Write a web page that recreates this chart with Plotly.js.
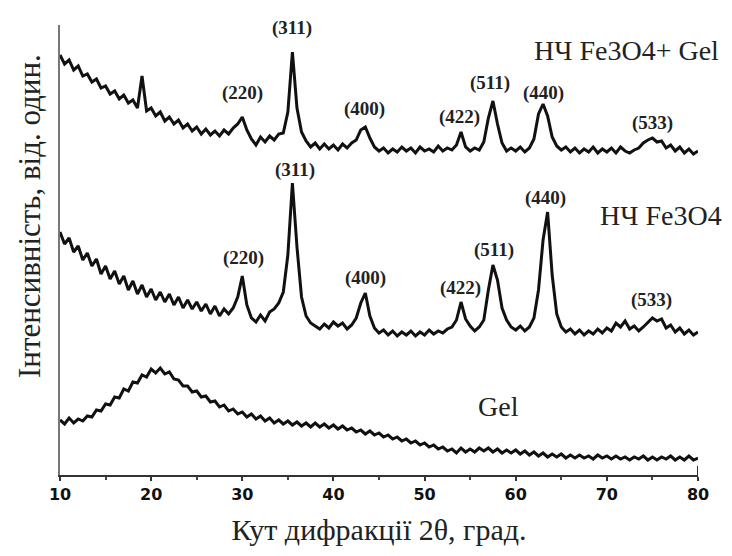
<!DOCTYPE html>
<html><head><meta charset="utf-8">
<script src="https://cdn.plot.ly/plotly-3.0.1.min.js"></script>
<style>html,body{margin:0;padding:0;background:#fff}#chart{width:732px;height:556px}</style>
</head><body><div id="chart"></div>
<script>
const twoTheta = [
10.0,10.5,11.0,11.5,12.0,12.5,13.0,13.5,14.0,14.5,
15.0,15.5,16.0,16.5,17.0,17.5,18.0,18.5,19.0,19.5,
20.0,20.5,21.0,21.5,22.0,22.5,23.0,23.5,24.0,24.5,
25.0,25.5,26.0,26.5,27.0,27.5,28.0,28.5,29.0,29.5,
30.0,30.5,31.0,31.5,32.0,32.5,33.0,33.5,34.0,34.5,
35.0,35.5,36.0,36.5,37.0,37.5,38.0,38.5,39.0,39.5,
40.0,40.5,41.0,41.5,42.0,42.5,43.0,43.5,44.0,44.5,
45.0,45.5,46.0,46.5,47.0,47.5,48.0,48.5,49.0,49.5,
50.0,50.5,51.0,51.5,52.0,52.5,53.0,53.5,54.0,54.5,
55.0,55.5,56.0,56.5,57.0,57.5,58.0,58.5,59.0,59.5,
60.0,60.5,61.0,61.5,62.0,62.5,63.0,63.5,64.0,64.5,
65.0,65.5,66.0,66.5,67.0,67.5,68.0,68.5,69.0,69.5,
70.0,70.5,71.0,71.5,72.0,72.5,73.0,73.5,74.0,74.5,
75.0,75.5,76.0,76.5,77.0,77.5,78.0,78.5,79.0,79.5,
80.0];

const intensityNPGel = [
420,411,415,405,409,399,401,393,396,387,
389,381,384,376,380,372,375,367,399,364,
367,359,363,354,358,351,355,347,351,344,
348,341,346,340,344,339,345,341,347,351,
358,345,336,330,338,333,339,335,341,342,
363,423,367,343,334,328,332,326,331,326,
330,325,331,327,332,335,345,348,337,328,
324,327,322,326,323,328,324,327,322,328,
324,326,323,329,324,327,325,330,343,328,
324,327,325,333,357,374,351,332,324,327,
324,328,323,327,336,361,371,359,338,329,
325,328,323,327,322,326,323,328,322,326,
323,327,322,328,324,322,325,327,332,335,
337,333,334,327,330,324,328,322,326,321,
324];

const intensityNP = [
243,231,237,223,229,215,222,209,216,201,
209,196,204,191,199,185,194,181,190,178,
186,175,183,173,181,170,178,167,175,166,
173,164,171,161,169,159,166,161,167,178,
199,170,157,153,160,154,163,166,172,183,
220,292,228,178,159,152,149,146,151,147,
153,149,152,146,150,157,172,182,159,147,
142,145,140,144,139,143,140,144,139,143,
140,145,141,144,142,146,148,155,173,156,
149,144,148,155,185,210,195,167,155,148,
145,149,144,148,157,185,235,263,200,161,
148,143,146,141,145,140,144,141,146,142,
147,144,152,148,154,146,149,144,148,153,
157,154,156,147,150,143,147,141,145,140,
143];

const intensityGel = [
55,51,57,52,56,54,59,58,65,64,
71,70,78,77,86,84,93,92,100,98,
106,102,107,101,103,96,95,89,89,83,
84,78,79,73,74,68,70,64,66,61,
63,58,61,56,59,54,57,52,55,51,
54,50,53,49,52,48,52,48,51,47,
50,46,49,45,47,43,45,41,44,40,
42,38,40,36,38,34,36,32,34,30,
32,28,30,26,28,24,26,22,27,23,
26,23,27,24,27,23,26,22,25,22,
25,21,24,20,23,19,22,18,21,18,
21,17,20,17,20,17,19,16,20,17,
19,16,19,16,18,15,18,16,19,15,
18,15,18,16,19,15,18,15,19,15,
17];

const hkl = ['(220)','(311)','(400)','(422)','(511)','(440)','(533)'];
const hklThetaNPGel = [29.97, 35.46, 43.36, 53.78, 57.18, 63.10, 75.06];
const hklLabelNPGel = [382, 447, 366, 358, 392, 382, 352];
const hklThetaNP = [30.08, 35.78, 43.57, 53.89, 57.62, 63.32, 74.85];
const hklLabelNP = [217, 305, 197, 187, 225, 277, 175];

const sampleNames = ['НЧ Fe3O4+ Gel', 'НЧ Fe3O4', 'Gel'];
const sampleNameTheta = [72.2, 75.9, 58.1];
const sampleNameLevel = [425, 260, 69];

const xTickVals = [10, 20, 30, 40, 50, 60, 70, 80];
const xTitle = 'Кут дифракції 2θ, град.';
const yTitle = 'Інтенсивність, від. один.';

const series = [intensityNPGel, intensityNP, intensityGel];
const traces = series.map((s, i) => ({
  x: twoTheta, y: s, type: 'scatter', mode: 'lines', name: sampleNames[i],
  line: {color: '#111', width: 3}, hoverinfo: 'skip'
}));

const serif = 'Times New Roman, Liberation Serif, DejaVu Serif, serif';
const annotations = [];
hkl.forEach((h, i) => {
  annotations.push({x: hklThetaNPGel[i], y: hklLabelNPGel[i], xref: 'x', yref: 'y', text: h, showarrow: false,
    xanchor: 'center', yanchor: 'middle', font: {family: serif, size: 19, weight: 'bold', color: '#222'}});
  annotations.push({x: hklThetaNP[i], y: hklLabelNP[i], xref: 'x', yref: 'y', text: h, showarrow: false,
    xanchor: 'center', yanchor: 'middle', font: {family: serif, size: 19, weight: 'bold', color: '#222'}});
});
sampleNames.forEach((n, i) => {
  annotations.push({x: sampleNameTheta[i], y: sampleNameLevel[i], xref: 'x', yref: 'y', text: n, showarrow: false,
    xanchor: 'center', yanchor: 'middle', font: {family: serif, size: 28, weight: 'normal', color: '#222'}});
});
annotations.push({x: -0.047, y: 0.5756, xref: 'paper', yref: 'paper', text: yTitle, textangle: -90,
  showarrow: false, xanchor: 'center', yanchor: 'middle', font: {family: serif, size: 31, weight: 'normal', color: '#222'}});

const layout = {
  width: 732, height: 556,
  margin: {l: 60, r: 34, t: 25, b: 81},
  paper_bgcolor: '#fff', plot_bgcolor: '#fff',
  showlegend: false,
  font: {family: serif},
  xaxis: {
    range: [10, 80], showgrid: false, zeroline: false,
    showline: true, linecolor: '#333', linewidth: 2,
    tickvals: xTickVals, ticks: 'outside', ticklen: 4, tickwidth: 2, tickcolor: '#333',
    minor: {dtick: 5, tick0: 10, ticks: 'outside', ticklen: 3, tickwidth: 2, tickcolor: '#444'},
    tickfont: {family: 'DejaVu Sans', size: 16, weight: 'bold', color: '#111'},
    title: {text: xTitle, font: {family: serif, size: 30, weight: 'normal', color: '#222'}, standoff: 16}
  },
  yaxis: {
    range: [0, 450], showgrid: false, zeroline: false,
    showline: true, linecolor: '#777', linewidth: 2,
    showticklabels: false, ticks: ''
  },
  shapes: [{type: 'line', xref: 'x', yref: 'y', x0: 80, x1: 80, y0: 0, y1: 9, line: {color: '#333', width: 2}}],
  annotations: annotations
};

Plotly.newPlot('chart', traces, layout, {displayModeBar: false, staticPlot: true});
</script>
</body></html>
